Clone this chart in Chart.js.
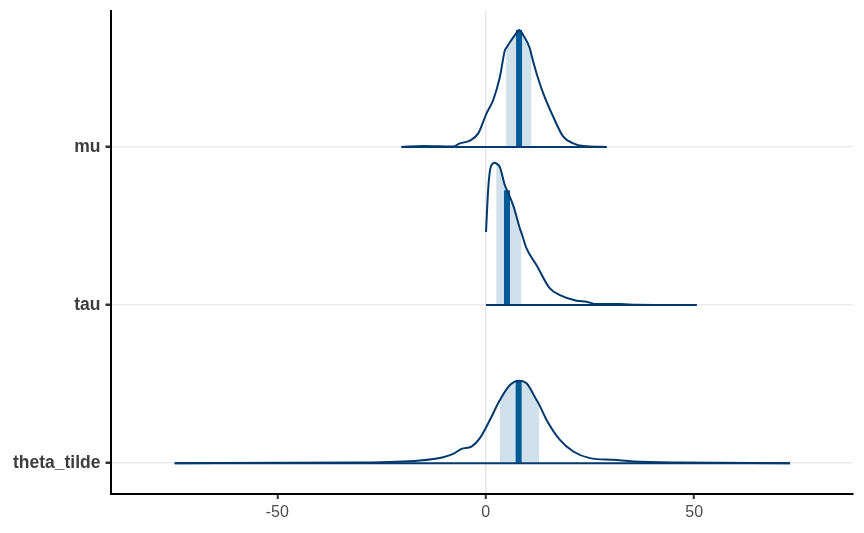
<!DOCTYPE html>
<html>
<head>
<meta charset="utf-8">
<script src="https://cdn.jsdelivr.net/npm/chart.js@4.4.1/dist/chart.umd.min.js"></script>
<style>
  html, body { margin: 0; padding: 0; background: #fff; }
  #wrap { width: 864px; height: 533px; position: relative; }
</style>
</head>
<body>
<div id="wrap"><canvas id="c" width="864" height="533"></canvas></div>
<script>
// Parameters, bottom to top (row position 1, 2, 3)
const paramNames = ['theta_tilde', 'tau', 'mu'];
const xTicks = [-50, 0, 50];

// mu density (x values and scaled density heights, in row units)
const muX = [-20.2, -15.0, -7.8, -6.2, -3.8, -1.8, 0.2, 1.8, 3.4, 4.6, 4.9, 5.8, 7.0, 8.0, 9.0, 10.6, 11.0, 12.2, 13.8, 16.2, 18.6, 21.0, 23.4, 29.0];
const muD = [0, 0.006, 0.003, 0.023, 0.040, 0.086, 0.213, 0.297, 0.442, 0.612, 0.625, 0.662, 0.707, 0.740, 0.707, 0.623, 0.580, 0.465, 0.339, 0.191, 0.065, 0.023, 0.006, 0];
const muInterval = [4.9, 11.0];
const muMedian = 8.0;

// tau density
const tauX = [0.07, 0.6, 1.2, 2.2, 2.5, 3.4, 4.6, 5.1, 6.6, 8.2, 8.6, 9.8, 12.2, 15.4, 17.8, 21.8, 24.2, 26.6, 32.2, 36.2, 50.6];
const tauD = [0.462, 0.736, 0.873, 0.900, 0.896, 0.873, 0.757, 0.726, 0.631, 0.484, 0.454, 0.358, 0.252, 0.105, 0.063, 0.027, 0.021, 0.006, 0.006, 0.002, 0];
const tauInterval = [2.5, 8.6];
const tauMedian = 5.1;

// theta_tilde density
const thetaX = [-74.6, -30.1, -15.8, -10.2, -7.8, -5.8, -3.4, -1.4, 1.0, 3.4, 5.8, 7.9, 9.8, 12.2, 12.8, 14.6, 17.8, 21.0, 25.0, 30.6, 35.4, 46.6, 73.0];
const thetaD = [0, 0.004, 0.017, 0.038, 0.059, 0.090, 0.105, 0.158, 0.273, 0.399, 0.494, 0.522, 0.505, 0.399, 0.372, 0.273, 0.147, 0.074, 0.032, 0.021, 0.011, 0.004, 0];
const thetaInterval = [3.4, 12.8];
const thetaMedian = 7.9;

const series = [
  { row: 3, xs: muX, ds: muD, iv: muInterval, med: muMedian },
  { row: 2, xs: tauX, ds: tauD, iv: tauInterval, med: tauMedian },
  { row: 1, xs: thetaX, ds: thetaD, iv: thetaInterval, med: thetaMedian }
];

const OUTLINE = '#03396c';
const MEDIAN = '#005b96';
const SHADE = '#d1e1ec';

const outlines = [], medians = [], fills = [], baselines = [];
series.forEach(s => {
  const pts = s.xs.map((x, i) => ({ x: x, y: s.row + s.ds[i] }));
  outlines.push({
    data: pts, showLine: true, pointRadius: 0, borderColor: OUTLINE,
    borderWidth: 2, fill: false, cubicInterpolationMode: 'monotone', order: 0
  });
  baselines.push({
    data: [{ x: s.xs[0], y: s.row }, { x: s.xs[s.xs.length - 1], y: s.row }],
    showLine: true, pointRadius: 0, borderColor: OUTLINE, borderWidth: 2, fill: false, order: 0
  });
  const inner = pts.filter(p => p.x >= s.iv[0] && p.x <= s.iv[1]);
  fills.push({
    data: inner, showLine: true, pointRadius: 0, borderWidth: 0,
    borderColor: 'rgba(0,0,0,0)', backgroundColor: SHADE,
    fill: { value: s.row }, cubicInterpolationMode: 'monotone', order: 2
  });
  const mi = s.xs.indexOf(s.med);
  medians.push({
    data: [{ x: s.med, y: s.row }, { x: s.med, y: s.row + s.ds[mi] }],
    showLine: true, pointRadius: 0, borderColor: MEDIAN, borderWidth: 6,
    borderCapStyle: 'butt', fill: false, order: 1
  });
});

new Chart(document.getElementById('c'), {
  type: 'scatter',
  data: { datasets: [...outlines, ...baselines, ...medians, ...fills] },
  options: {
    responsive: false,
    animation: false,
    layout: { padding: { top: 11, right: 11, left: 0, bottom: 0 } },
    plugins: { legend: { display: false }, tooltip: { enabled: false } },
    scales: {
      x: {
        type: 'linear', min: -90, max: 88.1,
        afterBuildTicks: sc => { sc.ticks = xTicks.map(v => ({ value: v })); },
        afterFit: sc => { sc.height = 39; sc.paddingLeft = 0; sc.paddingRight = 0; },
        border: { display: true, color: '#000', width: 2 },
        grid: {
          color: c => (c.tick && c.tick.value === 0) ? '#e6e6e6' : 'rgba(0,0,0,0)',
          lineWidth: 1.5, tickColor: '#333', tickLength: 5, tickWidth: 2
        },
        ticks: {
          color: '#4d4d4d', padding: 4,
          font: { family: 'Liberation Sans, Arial, sans-serif', size: 16 },
          callback: v => String(v), maxRotation: 0
        }
      },
      y: {
        type: 'linear', min: 0.805, max: 3.86,
        afterBuildTicks: sc => { sc.ticks = [1, 2, 3].map(v => ({ value: v })); },
        afterFit: sc => { sc.width = 110.5; sc.paddingTop = 0; sc.paddingBottom = 0; },
        border: { display: true, color: '#000', width: 2 },
        grid: { color: '#ebebeb', lineWidth: 1.5, tickColor: '#333', tickLength: 5, tickWidth: 2.5 },
        ticks: {
          color: '#3d3d3d', padding: 5,
          font: { family: 'Liberation Sans, Arial, sans-serif', size: 17.5, weight: 'bold' },
          callback: v => paramNames[v - 1]
        }
      }
    }
  }
});
</script>
</body>
</html>
